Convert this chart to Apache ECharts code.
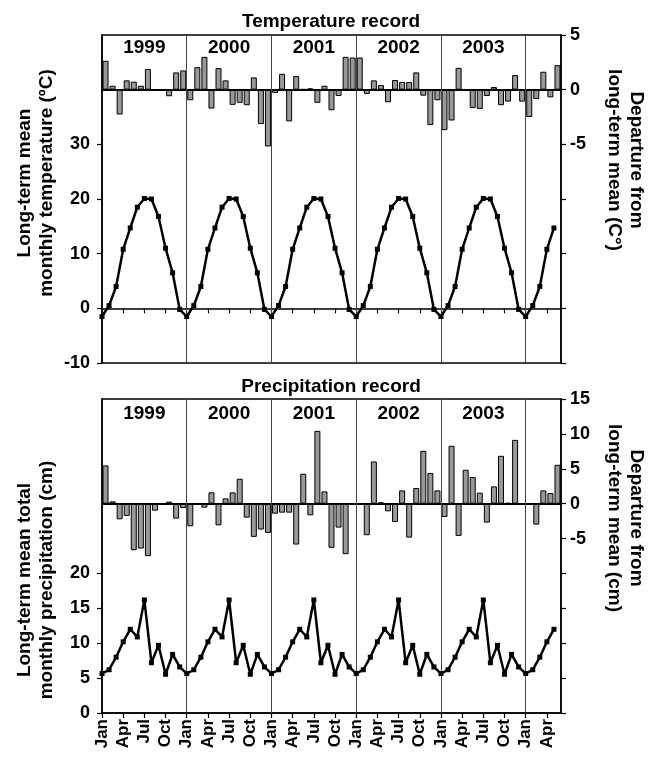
<!DOCTYPE html>
<html><head><meta charset="utf-8">
<script src="https://cdn.jsdelivr.net/npm/echarts@6/dist/echarts.min.js"></script>
<style>html,body{margin:0;padding:0;background:#fff}#c{width:651px;height:757px}</style>
</head><body><div id="c"></div>
<script>
// ---- data ----
const monthTickLabels = ['Jan', 'Apr', 'Jul', 'Oct'];
const years = ['1999', '2000', '2001', '2002', '2003'];

// Long-term mean monthly temperature (°C), Jan 1999 .. May 2004
const tempMean = [
  -1.5, 0.5, 4.0, 10.8, 14.7, 18.5, 20.1, 20.0, 16.8, 11.0, 6.5, -0.2,
  -1.5, 0.5, 4.0, 10.8, 14.7, 18.5, 20.1, 20.0, 16.8, 11.0, 6.5, -0.2,
  -1.5, 0.5, 4.0, 10.8, 14.7, 18.5, 20.1, 20.0, 16.8, 11.0, 6.5, -0.2,
  -1.5, 0.5, 4.0, 10.8, 14.7, 18.5, 20.1, 20.0, 16.8, 11.0, 6.5, -0.2,
  -1.5, 0.5, 4.0, 10.8, 14.7, 18.5, 20.1, 20.0, 16.8, 11.0, 6.5, -0.2,
  -1.5, 0.5, 4.0, 10.8, 14.7
];
// Departure from long-term mean (°C)
const tempDeparture = [
  2.64, 0.36, -2.27, 0.85, 0.73, 0.36, 1.9, -0.1, -0.12, -0.6, 1.58, 1.76,
  -0.97, 2.06, 3.0, -1.73, 1.97, 0.85, -1.39, -1.2, -1.42, 1.12, -3.15, -5.2,
  -0.3, 1.45, -2.9, 1.24, 0.05, 0.12, -1.2, 0.36, -1.88, -0.58, 3.0, 2.94,
  2.94, -0.4, 0.85, 0.42, -1.15, 0.88, 0.7, 0.7, 1.58, -0.55, -3.24, -0.97,
  -3.7, -2.82, 2.0, 0.02, -1.67, -1.76, -0.58, 0.24, -1.42, -1.09, 1.33, -1.09,
  -2.5, -0.85, 1.64, -0.7, 2.24
];
// Long-term mean total monthly precipitation (cm)
const precipMean = [
  5.65, 6.2, 8.0, 10.2, 12.0, 10.9, 16.2, 7.2, 9.7, 5.55, 8.4, 6.6,
  5.65, 6.2, 8.0, 10.2, 12.0, 10.9, 16.2, 7.2, 9.7, 5.55, 8.4, 6.6,
  5.65, 6.2, 8.0, 10.2, 12.0, 10.9, 16.2, 7.2, 9.7, 5.55, 8.4, 6.6,
  5.65, 6.2, 8.0, 10.2, 12.0, 10.9, 16.2, 7.2, 9.7, 5.55, 8.4, 6.6,
  5.65, 6.2, 8.0, 10.2, 12.0, 10.9, 16.2, 7.2, 9.7, 5.55, 8.4, 6.6,
  5.65, 6.2, 8.0, 10.2, 12.0
];
// Departure from long-term mean (cm)
const precipDeparture = [
  5.48, 0.33, -2.24, -1.76, -6.67, -6.43, -7.52, -1.0, 0.0, 0.29, -2.14, -0.62,
  -3.24, 0.0, -0.57, 1.62, -3.1, 0.76, 1.62, 3.57, -2.0, -4.76, -3.71, -4.19,
  -1.43, -1.29, -1.29, -5.86, 4.29, -1.67, 10.43, 1.76, -6.33, -3.43, -7.24, 0.0,
  0.0, -4.52, 6.05, 0.19, -1.1, -2.62, 1.9, -4.86, 2.24, 7.57, 4.38, 1.9,
  -1.9, 8.29, -4.62, 4.86, 3.81, 1.57, -2.71, 2.48, 6.86, 0.1, 9.14, 0.0,
  0.0, -3.0, 1.9, 1.52, 5.57
];

// ---- chart ----
const FONT = 'Liberation Sans, Arial, sans-serif';
const nMonths = tempMean.length;
const monthTicks = [];
for (let i = 0; i < nMonths; i += 3) monthTicks.push(i);
const yearStarts = years.map((y, k) => (k + 1) * 12);

const axisLineStyle = { color: '#000', width: 1.5 };
const tickStyle = { show: true, inside: false, length: 5, lineStyle: { color: '#000', width: 1.2 } };
const labelStyle = { color: '#000', fontFamily: FONT, fontWeight: 'bold', fontSize: 18 };

function xAxisFor(grid, showLabels) {
  return {
    gridIndex: grid, type: 'value', min: 0, max: nMonths,
    axisLine: { show: true, lineStyle: axisLineStyle },
    axisTick: Object.assign({}, tickStyle, { customValues: monthTicks }),
    splitLine: { show: false },
    axisLabel: showLabels ? Object.assign({}, labelStyle, {
      fontSize: 17, rotate: 90, margin: 6, customValues: monthTicks,
      formatter: v => monthTickLabels[(v / 3) % 4]
    }) : { show: false }
  };
}
function yAxisFor(grid, pos, min, max, labels, ticks) {
  return {
    gridIndex: grid, type: 'value', position: pos, min: min, max: max, interval: 5,
    axisLine: { show: true, lineStyle: axisLineStyle },
    axisTick: Object.assign({}, tickStyle, { customValues: ticks }),
    splitLine: { show: false },
    axisLabel: Object.assign({}, labelStyle, { margin: pos === 'left' ? 12 : 9, customValues: labels })
  };
}
function range(a, b, s) { const r = []; for (let v = a; v <= b; v += s) r.push(v); return r; }

function barSeries(xi, yi, values) {
  return {
    type: 'bar', xAxisIndex: xi, yAxisIndex: yi, barWidth: 6,
    data: values.map((v, i) => [i + 0.5, v]),
    itemStyle: { color: '#999999', borderColor: '#000', borderWidth: 1 },
    markLine: {
      silent: true, symbol: 'none', label: { show: false },
      data: [{ yAxis: 0, lineStyle: { color: '#000', width: 2, type: 'solid' } }]
        .concat(yearStarts.map(x => ({ xAxis: x, lineStyle: { color: '#444', width: 1, type: 'solid' } })))
    }
  };
}
function lineSeries(xi, yi, values) {
  return {
    type: 'line', xAxisIndex: xi, yAxisIndex: yi,
    data: values.map((v, i) => [i, v]),
    symbol: 'rect', symbolSize: 5, showSymbol: true,
    lineStyle: { color: '#000', width: 2.5 },
    itemStyle: { color: '#000' }, z: 5
  };
}
function yearLabelSeries(xi, yi, yVal) {
  return {
    type: 'scatter', xAxisIndex: xi, yAxisIndex: yi, symbolSize: 0,
    itemStyle: { opacity: 1, color: '#000' },
    data: years.map((y, k) => [k * 12 + 6, yVal]),
    label: { show: true, position: 'inside', formatter: p => years[p.dataIndex], opacity: 1,
      color: '#000', fontFamily: FONT, fontWeight: 'bold', fontSize: 19 }
  };
}
const titleFont = 'bold 19px ' + FONT;

const option = {
  animation: false,
  backgroundColor: '#fff',
  grid: [
    { left: 102, right: 90, top: 35, height: 328, show: true, borderColor: '#000', borderWidth: 1.5, backgroundColor: 'transparent' },
    { left: 102, right: 90, top: 399, height: 314, show: true, borderColor: '#000', borderWidth: 1.5, backgroundColor: 'transparent' }
  ],
  xAxis: [xAxisFor(0, false), xAxisFor(1, true)],
  yAxis: [
    Object.assign(yAxisFor(0, 'left', -10, 50, range(-10, 30, 10), range(-10, 30, 10)), { interval: 10 }),
    yAxisFor(0, 'right', -25, 5, [-5, 0, 5], range(-25, 5, 5)),
    yAxisFor(1, 'left', 0, 45, range(0, 20, 5), range(0, 20, 5)),
    yAxisFor(1, 'right', -30, 15, range(-5, 15, 5), range(-30, 15, 5))
  ],
  series: [
    barSeries(0, 1, tempDeparture),
    lineSeries(0, 0, tempMean),
    yearLabelSeries(0, 1, 3.8),
    barSeries(1, 3, precipDeparture),
    lineSeries(1, 2, precipMean),
    yearLabelSeries(1, 3, 12.9)
  ],
  graphic: [
    { type: 'text', x: 331, y: 22, style: { text: 'Temperature record', fill: '#000', font: titleFont, textAlign: 'center', textVerticalAlign: 'middle' } },
    { type: 'text', x: 331, y: 387, style: { text: 'Precipitation record', fill: '#000', font: titleFont, textAlign: 'center', textVerticalAlign: 'middle' } },
    { type: 'text', x: 36, y: 183, rotation: Math.PI / 2, style: { text: 'Long-term mean\nmonthly temperature (ºC)', fill: '#000', font: titleFont, lineHeight: 22, textAlign: 'center', textVerticalAlign: 'middle' } },
    { type: 'text', x: 36, y: 580, rotation: Math.PI / 2, style: { text: 'Long-term mean total\nmonthly precipitation (cm)', fill: '#000', font: titleFont, lineHeight: 22, textAlign: 'center', textVerticalAlign: 'middle' } },
    { type: 'text', x: 625, y: 160, rotation: -Math.PI / 2, style: { text: 'Departure from\nlong-term mean (C°)', fill: '#000', font: titleFont, lineHeight: 22, textAlign: 'center', textVerticalAlign: 'middle' } },
    { type: 'text', x: 625, y: 518, rotation: -Math.PI / 2, style: { text: 'Departure from\nlong-term mean (cm)', fill: '#000', font: titleFont, lineHeight: 22, textAlign: 'center', textVerticalAlign: 'middle' } }
  ]
};
const chart = echarts.init(document.getElementById('c'), null, { renderer: 'canvas' });
chart.setOption(option);
</script>
</body></html>
